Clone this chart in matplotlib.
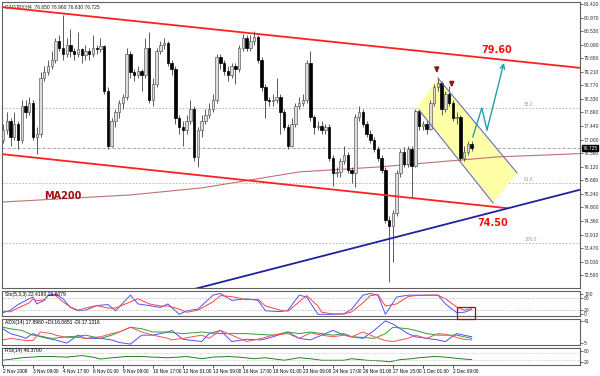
import matplotlib.pyplot as plt
from matplotlib.patches import Rectangle, Polygon

SMALL = ['Liberation Sans', 'DejaVu Sans']

# ---- price data (H4 candles) ----
first_open = 77.0
closes = [77.3, 77.6, 77.1, 77.5, 77.0, 78.1, 77.9, 78.2, 77.1, 77.2,
          79.0, 79.2, 79.4, 79.6, 80.2, 80.0, 79.8, 80.1, 79.9, 79.8,
          79.95, 79.75, 79.9, 79.8, 80.0, 79.95, 80.05, 78.6, 76.8, 77.6,
          77.9, 78.2, 78.4, 79.8, 79.2, 79.1, 79.25, 79.1, 80.0, 78.3,
          78.8, 79.9, 80.1, 80.15, 79.5, 79.3, 77.7, 77.4, 77.3, 77.6,
          78.0, 76.45, 77.3, 77.6, 77.8, 78.0, 78.3, 79.7, 79.5, 79.25,
          79.1, 79.4, 79.3, 80.0, 80.3, 80.0, 80.2, 80.35, 79.6, 78.7,
          78.3, 78.25, 78.3, 78.4, 77.9, 77.4, 76.8, 77.5, 78.1, 78.2,
          78.3, 79.5, 77.75, 77.4, 77.45, 77.3, 77.4, 76.4, 75.9, 75.95,
          76.3, 76.5, 76.0, 75.9, 77.75, 77.9, 77.5, 77.2, 77.0, 76.7,
          76.4, 76.0, 74.4, 74.2, 74.6, 75.9, 76.6, 76.2, 76.7, 76.15,
          77.95, 77.45, 77.5, 77.35, 78.2, 78.7, 78.85, 78.0, 78.5, 78.2,
          77.7, 77.75, 76.4, 76.6, 76.85, 76.725]
highs = [77.5, 77.9, 77.7, 77.9, 77.6, 78.3, 78.3, 78.4, 78.3, 77.4,
         79.2, 79.4, 79.6, 79.9, 80.3, 80.4, 81.05, 80.3, 80.6, 80.0,
         80.5, 80.0, 80.1, 80.0, 80.4, 80.1, 80.3, 80.1, 78.7, 77.7,
         78.0, 78.3, 78.5, 80.0, 79.9, 79.3, 79.4, 79.3, 80.3, 80.5,
         79.0, 80.0, 80.2, 80.3, 80.2, 79.6, 79.4, 77.8, 77.6, 77.8,
         78.3, 78.1, 77.4, 77.8, 78.0, 78.2, 78.5, 79.8, 79.8, 79.6,
         79.4, 79.5, 79.5, 80.1, 80.45, 80.4, 80.4, 80.55, 80.4, 79.7,
         78.8, 78.4, 78.5, 79.0, 78.5, 78.0, 77.5, 77.7, 78.2, 78.4,
         78.5, 79.6, 79.9, 77.8, 77.6, 77.6, 77.5, 77.5, 76.5, 76.1,
         76.4, 76.8, 76.6, 76.1, 77.85, 78.1, 78.0, 77.6, 77.3, 77.1,
         76.8, 76.5, 76.1, 74.5, 74.7, 76.0, 76.7, 76.75, 76.8, 76.8,
         78.0, 78.0, 77.6, 77.6, 78.3, 78.8, 79.0, 78.9, 78.6, 78.75,
         78.3, 77.9, 77.8, 76.8, 76.95, 76.96]
lows = [76.9, 77.2, 76.8, 77.0, 76.7, 76.9, 77.7, 77.8, 77.0, 76.55,
        77.1, 78.9, 79.1, 79.3, 79.5, 79.9, 79.6, 79.7, 79.7, 79.6,
        79.7, 79.5, 79.6, 79.6, 79.7, 79.8, 79.85, 78.5, 76.7, 76.75,
        77.4, 77.7, 78.0, 78.3, 79.0, 78.9, 79.0, 78.6, 79.0, 78.2,
        78.1, 78.7, 79.8, 79.95, 79.4, 79.1, 77.5, 77.2, 76.8, 77.2,
        77.5, 76.3, 76.1, 77.1, 77.5, 77.7, 77.9, 78.2, 79.3, 79.1,
        78.9, 79.0, 78.8, 79.2, 79.9, 79.9, 79.9, 80.1, 79.5, 78.6,
        77.7, 78.1, 78.1, 78.2, 77.2, 77.3, 76.7, 76.75, 77.4, 78.0,
        78.1, 78.2, 77.6, 77.2, 77.3, 77.2, 77.2, 76.3, 75.5, 75.8,
        75.8, 76.2, 75.9, 75.6, 75.45, 77.6, 77.4, 77.1, 76.9, 76.6,
        76.3, 75.9, 74.3, 72.35, 73.0, 74.5, 75.8, 76.1, 76.1, 75.13,
        76.1, 77.3, 77.3, 77.2, 77.3, 78.1, 78.6, 77.8, 77.9, 78.1,
        77.6, 77.5, 76.3, 76.3, 76.5, 76.63]

# 200 period moving average (bar, price)
ma_bar = [0, 34, 53, 79, 100, 132, 159, 185, 205, 233, 260, 290, 326, 356, 380, 408, 470]
ma_val = [74.97, 75.20, 75.43, 75.95, 76.11, 76.44, 76.57, 76.73, 76.89, 77.02,
          77.02, 77.06, 76.99, 76.93, 76.93, 76.99, 77.00]

# trend lines (bar, price)
upper_ch = [(-0.3, 81.32), (153.9, 79.34)]
lower_ch = [(-0.3, 76.53), (134.4, 74.77)]
support = [(49.9, 72.10), (153.9, 75.37)]
flag_pts = [(110.4, 78.03), (116.0, 79.01), (137.1, 75.92), (130.7, 74.94)]
proj_bar = [125.3, 127.7, 129.1, 133.6]
proj_val = [77.09, 78.03, 77.32, 79.50]
peak_marks = [(115.7, 79.27), (119.7, 78.80)]
fib_levels = [78.03, 75.59, 73.63]
fib_names = ['38.2', '61.8', '100.0']
last_price = 76.725
price_ticks = [81.420, 80.970, 80.530, 80.090, 79.650, 79.210, 78.770, 78.330,
               77.890, 77.440, 77.000, 76.560, 76.120, 75.680, 75.240, 74.800,
               74.360, 73.910, 73.470, 73.030, 72.590]

# ---- indicators ----
sto_bar = [0, 2, 4, 7, 8, 9, 11, 12, 14, 16, 18, 20, 22, 25, 28, 30, 34, 36, 39, 42,
           44, 47, 49, 52, 56, 58, 61, 65, 68, 70, 74, 76, 79, 81, 84, 85, 88, 91, 93, 96,
           98, 100, 102, 105, 108, 110, 113, 116, 118, 121, 123, 125]
sto_main = [8, 20, 47, 75, 83, 50, 67, 92, 97, 75, 33, 17, 20, 42, 47, 17, 92, 50, 42, 33,
            50, 0, 17, 25, 92, 100, 67, 75, 67, 17, 13, 20, 92, 83, 0, 0, 0, 3, 25, 92,
            100, 92, 0, 83, 92, 92, 92, 92, 50, 8, 10, 22]
sto_sig = [15, 12, 30, 55, 75, 65, 70, 90, 90, 60, 35, 20, 30, 42, 30, 30, 60, 75, 50, 40,
           40, 25, 10, 20, 60, 90, 85, 70, 72, 40, 20, 15, 60, 90, 40, 10, 2, 2, 12, 55,
           90, 95, 40, 50, 85, 90, 92, 92, 75, 35, 20, 27]

adx_bar = [0, 2, 5, 6, 8, 10, 13, 14, 17, 20, 22, 26, 29, 31, 34, 37, 40, 44, 45, 48,
           53, 55, 58, 61, 65, 69, 72, 76, 79, 82, 85, 88, 91, 93, 96, 99, 102, 104, 108, 110,
           113, 116, 118, 121, 123, 125]
adx_plus = [28.2, 20.4, 15.3, 12.7, 20.4, 15.3, 11.2, 10.2, 5.0, 17.9, 12.7, 12.7, 10.2, 6.0, 3.5, 17.9,
            17.9, 23.0, 25.6, 11.2, 7.6, 20.4, 25.6, 7.6, 11.2, 10.2, 15.3, 23.0, 12.7, 10.2,
            17.9, 25.6, 17.9, 15.3, 12.7, 25.6, 41.0, 35.9, 20.4, 15.3, 12.7, 10.2, 7.6, 20.4, 17.9, 15.3]
adx_main = [30.7, 28.2, 25.6, 23.0, 17.9, 16.3, 12.7, 13.2, 15.3, 16.3, 17.9, 12.7, 17.9, 23.0, 30.7, 28.2,
            23.0, 23.0, 22.0, 20.4, 23.0, 21.5, 20.4, 20.4, 20.4, 18.9, 17.9, 23.0, 20.4, 23.0,
            20.4, 17.9, 20.4, 15.3, 14.3, 12.7, 20.4, 30.7, 28.2, 25.6, 20.4, 17.9, 17.9, 17.9, 15.3, 12.7]
adx_minus = [10.2, 12.7, 10.2, 9.1, 9.1, 23.0, 20.4, 17.9, 14.3, 14.3, 12.7, 15.3, 20.4, 23.0, 30.7, 23.0,
             17.9, 12.7, 10.2, 12.7, 17.9, 12.7, 25.6, 17.9, 7.6, 12.7, 17.9, 20.4, 12.7, 21.5,
             17.9, 15.3, 17.9, 15.3, 23.0, 15.3, 9.1, 7.6, 12.7, 17.9, 12.7, 20.4, 19.4, 14.3, 11.2, 10.2]

rsi_bar = [0, 5, 10, 13, 17, 21, 24, 26, 29, 33, 37, 40, 44, 49, 53, 56, 60, 63, 67, 70,
           75, 79, 82, 85, 88, 91, 93, 97, 101, 103, 106, 109, 111, 115, 118, 122, 125]
rsi_val = [27.8, 42.6, 50.0, 50.0, 46.3, 55.6, 46.3, 35.2, 42.6, 50.0, 50.0, 46.3, 42.6, 50.0,
           37.0, 46.3, 50.0, 46.3, 37.0, 42.6, 27.8, 42.6, 37.0, 27.8, 27.8, 27.8, 37.0, 27.8,
           24.0, 18.5, 31.5, 37.0, 42.6, 50.0, 46.3, 37.0, 31.5]

time_bar = [0, 8, 16, 24, 32, 40, 48, 56, 64, 72, 80, 88, 96, 104, 112, 120]
time_lbl = ['2 Nov 2009', '3 Nov 09:00', '4 Nov 17:00', '6 Nov 01:00', '9 Nov 09:00',
            '10 Nov 17:00', '12 Nov 01:00', '13 Nov 09:00', '16 Nov 17:00', '18 Nov 01:00',
            '23 Nov 09:00', '24 Nov 17:00', '26 Nov 01:00', '27 Nov 15:00', '1 Dec 01:00',
            '2 Dec 09:00']

W, H = 600, 376
fig = plt.figure(figsize=(6, 3.76), dpi=100)
fig.patch.set_facecolor('white')
XL = (-0.27, 153.9)


def box(y0, y1):
    return [2 / W, 1 - y1 / H, 578 / W, (y1 - y0) / H]


ax = fig.add_axes(box(2, 288))
ax_s = fig.add_axes(box(291, 316), sharex=ax)
ax_a = fig.add_axes(box(319, 345), sharex=ax)
ax_r = fig.add_axes(box(348, 365), sharex=ax)

for a in (ax, ax_s, ax_a, ax_r):
    a.set_xlim(*XL)
    a.set_facecolor('white')
    for sp in a.spines.values():
        sp.set_color('#606060')
        sp.set_linewidth(0.8)
    a.tick_params(axis='y', which='both', right=True, left=False, labelleft=False,
                  labelright=True, length=2, width=0.5, labelsize=3.6, pad=1, colors='#303030')
    a.tick_params(axis='x', bottom=False, labelbottom=False)

# candles
opens = [first_open] + closes[:-1]
for i, (o, h, l, c) in enumerate(zip(opens, highs, lows, closes)):
    ax.vlines(i, l, h, color='#404040', lw=0.6, zorder=3)
    bull = c >= o
    ax.add_patch(Rectangle((i - 0.33, min(o, c)), 0.66, max(abs(c - o), 0.02),
                           facecolor='#dcdcdc' if bull else 'black',
                           edgecolor='#606060' if bull else 'black', lw=0.5, zorder=4))

ax.set_ylim(72.169, 81.485)
ax.set_yticks(price_ticks)
ax.set_yticklabels(['%.3f' % t for t in price_ticks], family=SMALL)

# levels
for lv, nm in zip(fib_levels, fib_names):
    ax.axhline(lv, color='#b0b0b0', lw=0.6, ls=(0, (2, 2)), zorder=1)
    ax.text(139, lv + 0.04, nm, fontsize=3.5, color='#a0a0a0', va='bottom', family=SMALL)
ax.axhline(last_price, color='#a0a0a0', lw=0.6, ls=(0, (4, 2)), zorder=1)
ax.text(1.004, last_price, '%.3f' % last_price, transform=ax.get_yaxis_transform(),
        fontsize=3.6, color='white', va='center', ha='left', family=SMALL,
        bbox=dict(boxstyle='square,pad=0.15', fc='black', ec='black'))

# flag channel
ax.add_patch(Polygon(flag_pts, closed=True, facecolor='#ffffa8', edgecolor='none', zorder=2))
ax.plot([flag_pts[1][0], flag_pts[2][0]], [flag_pts[1][1], flag_pts[2][1]], color='#6a6ac8', lw=0.8, zorder=5)
ax.plot([flag_pts[0][0] + 0.8, flag_pts[3][0]], [flag_pts[0][1] - 0.1, flag_pts[3][1]], color='#6a6ac8', lw=0.8, zorder=5)

# MA200
ax.plot(ma_bar, ma_val, color='#c07070', lw=0.8, zorder=2)

# channel lines
ax.plot(*zip(*upper_ch), color='#ff2020', lw=1.3, zorder=6)
ax.plot(*zip(*lower_ch), color='#ff2020', lw=1.3, zorder=6)
ax.plot(*zip(*support), color='#2020a0', lw=1.3, zorder=6)

# projection arrow
ax.plot(proj_bar[:-1], proj_val[:-1], color='#20a0a8', lw=1.0, zorder=7)
ax.annotate('', xy=(proj_bar[-1], proj_val[-1]), xytext=(proj_bar[-2], proj_val[-2]),
            arrowprops=dict(arrowstyle='->', color='#20a0a8', lw=1.0, mutation_scale=8,
                            shrinkA=0, shrinkB=0), zorder=7)

for bx, by in peak_marks:
    ax.annotate('', xy=(bx, by - 0.18), xytext=(bx, by + 0.12),
                arrowprops=dict(arrowstyle='-|>', color='#8b1a1a', lw=1.4, mutation_scale=6))

ax.text(127.5, 79.92, '79.60', color='#ff1010', fontsize=7, fontweight='bold', va='center')
ax.text(126.5, 74.29, '74.50', color='#ff1010', fontsize=7, fontweight='bold', va='center')
ax.text(11.0, 75.17, 'MA200', color='#a01010', fontsize=7, fontweight='bold', va='center')
ax.text(0.5, 81.40, 'CADJPY,H4  76.650 76.960 76.630 76.725', fontsize=3.6, color='#202020',
        va='top', family=SMALL)

# stochastic
ax_s.plot(sto_bar, sto_main, color='#5050ff', lw=0.7)
ax_s.plot(sto_bar, sto_sig, color='#ff4040', lw=0.7)
for lv in (80, 20):
    ax_s.axhline(lv, color='#b0b0b0', lw=0.5, ls=(0, (2, 2)))
ax_s.set_ylim(-8, 112)
ax_s.set_yticks([100, 80, 20, 0])
ax_s.text(0.5, 108, 'Sto(5,3,3) 22.4190 26.6079', fontsize=3.6, va='top', family=SMALL)
fig.patches.append(Rectangle((457 / W, 1 - 319 / H), 18 / W, 12 / H, transform=fig.transFigure,
                             fill=False, edgecolor='#a01010', lw=0.9))

# ADX
ax_a.plot(adx_bar, adx_plus, color='#5050ff', lw=0.7)
ax_a.plot(adx_bar, adx_main, color='#30a030', lw=0.7)
ax_a.plot(adx_bar, adx_minus, color='#ff5050', lw=0.7)
ax_a.set_ylim(2, 44)
ax_a.set_yticks([41, 5])
ax_a.text(0.5, 43, 'ADX(14) 17.8960 +DI:16.0651 -DI:17.1316', fontsize=3.6, va='top', family=SMALL)

# RSI
ax_r.plot(rsi_bar, rsi_val, color='#208020', lw=0.7)
for lv in (70, 30):
    ax_r.axhline(lv, color='#c0c0c0', lw=0.5, ls=(0, (2, 2)))
ax_r.set_ylim(0, 100)
ax_r.set_yticks([80, 20])
ax_r.text(0.5, 98, 'RSI(14) 46.3700', fontsize=3.6, va='top', family=SMALL)

for a in (ax_s, ax_a, ax_r):
    a.set_yticklabels([str(int(t)) for t in a.get_yticks()], family=SMALL)

ax_r.tick_params(axis='x', bottom=True, labelbottom=True, length=2, width=0.5,
                 labelsize=3.4, pad=1)
ax_r.set_xticks(time_bar)
ax_r.set_xticklabels(time_lbl, ha='left', family=SMALL)

fig.savefig('out.png', dpi=100)
